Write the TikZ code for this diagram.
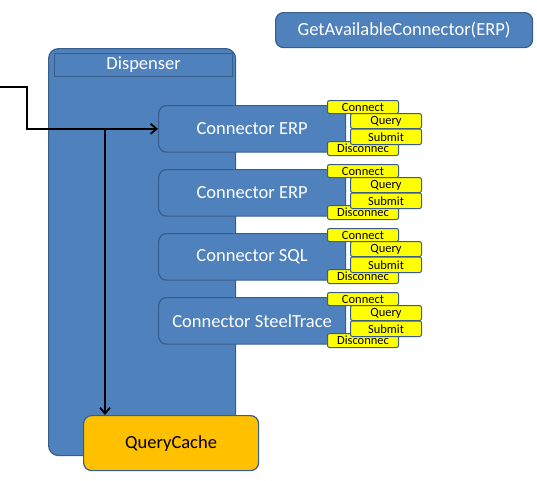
\documentclass[tikz,border=0pt]{standalone}
\usepackage{fontspec}
\setmainfont{Carlito}
\usetikzlibrary{arrows.meta}
\definecolor{bfill}{HTML}{4F81BD}
\definecolor{bline}{HTML}{385D8A}
\definecolor{yfill}{HTML}{FFFF00}
\definecolor{ofill}{HTML}{FFC000}
\tikzset{
  bluebox/.style={draw=bline, line width=1.2pt, fill=bfill, rounded corners=8pt, text=white, font=\fontsize{18.5}{18.5}\selectfont, inner sep=0pt},
  titlebar/.style={draw=bline, line width=1.2pt, fill=bfill, text=white, font=\fontsize{18.5}{18.5}\selectfont, inner sep=0pt},
  ybox/.style={draw=bline, line width=1pt, fill=yfill, rounded corners=2pt, font=\fontsize{12.5}{12.5}\selectfont, inner sep=0pt, minimum width=71pt, text=black},
  arr/.style={line width=1.8pt, -{Straight Barb[length=6pt,width=10pt,line width=1.8pt]}},
}
\begin{document}
\begin{tikzpicture}[x=1pt,y=-1pt]
\useasboundingbox (0,0) rectangle (537,480);
% Dispenser
\node[bluebox, rounded corners=10pt, minimum width=187pt, minimum height=407pt, anchor=north west] (disp) at (48,48) {};
\node[titlebar, minimum width=178pt, minimum height=23pt, anchor=north west] (dtitle) at (54,53) {Dispenser};
% GetAvailableConnector
\node[bluebox, minimum width=257pt, minimum height=35pt, anchor=north west] (get) at (275,12) {GetAvailableConnector(ERP)};
% Connectors
\foreach \i/\lab/\y in {1/Connector ERP/105, 2/Connector ERP/169, 3/Connector SQL/233, 4/Connector SteelTrace/297}{
  \node[bluebox, minimum width=187pt, minimum height=46.5pt, anchor=north west] (c\i) at (158,\y) {\lab};
  \node[ybox, minimum height=13pt, anchor=north west] (cn\i) at (327,\y-5) {Connect};
  \node[ybox, minimum height=14pt, anchor=north west] (dc\i) at (327,\y+36) {\raisebox{-1.5pt}{Disconnec}};
  \node[ybox, minimum height=15pt, anchor=north west] (q\i) at (350,\y+8) {Query};
  \node[ybox, minimum height=15.5pt, anchor=north west] (s\i) at (350,\y+23.5) {Submit};
}
% QueryCache
\node[draw=bline, line width=1.2pt, fill=ofill, rounded corners=8pt, minimum width=175pt, minimum height=55pt, anchor=north west, inner sep=0pt, font=\fontsize{18.5}{18.5}\selectfont] (qc) at (83,415) {QueryCache};
% connectors
\coordinate (start) at (0,87);
\coordinate (bend) at (27,87);
\draw[arr] (start) -- (bend) |- (c1.west);
\coordinate (br) at (105,128.5);
\draw[arr] (br) -- (br |- qc.north);
\end{tikzpicture}
\end{document}
